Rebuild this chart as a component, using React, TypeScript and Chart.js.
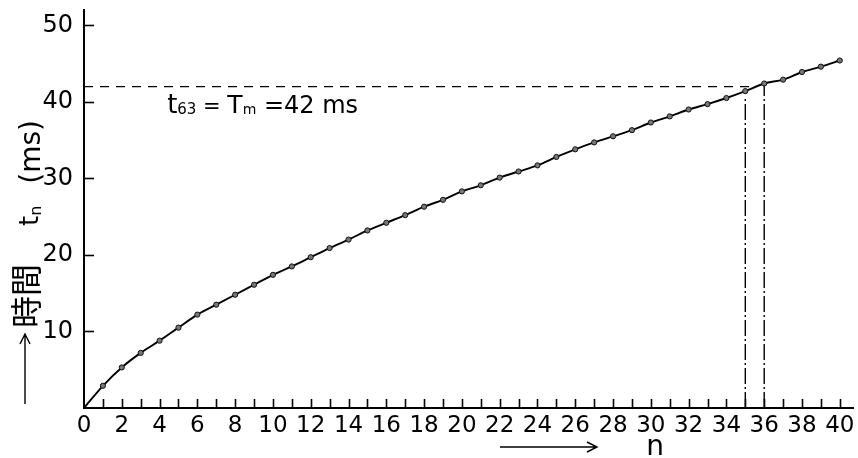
import React, { useEffect, useRef } from "react";
import { Chart, registerables } from "chart.js";

Chart.register(...registerables);

// n (pulse number) and measured time t_n in ms
const nValues = [0, 1, 2, 3, 4, 5, 6, 7, 8, 9, 10, 11, 12, 13, 14, 15, 16, 17, 18, 19, 20, 21, 22, 23, 24, 25, 26, 27, 28, 29, 30, 31, 32, 33, 34, 35, 36, 37, 38, 39, 40];
const tValues = [0, 2.9, 5.3, 7.2, 8.8, 10.5, 12.2, 13.5, 14.8, 16.1, 17.4, 18.5, 19.7, 20.9, 22.0, 23.2, 24.2, 25.2, 26.3, 27.2, 28.3, 29.1, 30.1, 30.9, 31.7, 32.8, 33.8, 34.7, 35.5, 36.3, 37.3, 38.1, 39.0, 39.7, 40.5, 41.4, 42.4, 42.9, 43.9, 44.6, 45.4];

// reference lines
const t63Value = 42;
const t63LineEndN = 35.3;
const verticalA = { n: 35, top: 40.6 };
const verticalB = { n: 36, top: 42.1 };

// ticks
const xMinorTicks = [1, 2, 3, 4, 5, 6, 7, 8, 9, 10, 11, 12, 13, 14, 15, 16, 17, 18, 19, 20, 21, 22, 23, 24, 25, 26, 27, 28, 29, 30, 31, 32, 33, 34, 35, 36, 37, 38, 39, 40];
const yMajorTicks = [10, 20, 30, 40, 50];
const xMin = 0, xMax = 40.7, yMin = 0, yMax = 52;

// annotation anchor (data coordinates)
const annotationAt = { n: 4.4, t: 38.6 };

const FONT = "'DejaVu Sans', sans-serif";
const CJK = "'Noto Sans CJK JP', sans-serif";

const decorPlugin = {
  id: "decor",
  afterDraw(chart: any) {
    const { ctx, chartArea, scales } = chart;
    const x = scales.x, y = scales.y;
    ctx.save();
    ctx.strokeStyle = "#000";
    ctx.fillStyle = "#000";
    ctx.lineWidth = 1.6;
    // inner tick marks on x axis
    for (const v of xMinorTicks) {
      const px = Math.round(x.getPixelForValue(v)) + 0.5;
      ctx.beginPath();
      ctx.moveTo(px, chartArea.bottom);
      ctx.lineTo(px, chartArea.bottom - 9);
      ctx.stroke();
    }
    // inner tick marks on y axis
    for (const v of yMajorTicks) {
      const py = Math.round(y.getPixelForValue(v)) + 0.5;
      ctx.beginPath();
      ctx.moveTo(chartArea.left, py);
      ctx.lineTo(chartArea.left + 10, py);
      ctx.stroke();
    }

    // annotation text  t63 = Tm = 42 ms
    const parts = [
      { s: "t", size: 26, dy: 0 },
      { s: "63", size: 15, dy: 1 },
      { s: " = ", size: 21, dy: 0 },
      { s: "T", size: 25, dy: 0 },
      { s: "m", size: 14, dy: 1 },
      { s: " =42 ms", size: 24, dy: 0 },
    ];
    let ax = x.getPixelForValue(annotationAt.n);
    const ay = y.getPixelForValue(annotationAt.t);
    ctx.textBaseline = "alphabetic";
    ctx.textAlign = "left";
    for (const p of parts) {
      ctx.font = `${p.size}px ${FONT}`;
      ctx.fillText(p.s, ax, ay + p.dy);
      ax += ctx.measureText(p.s).width;
    }

    // y axis title (rotated, reading upward)
    const ax0 = 25;
    const arrowBottom = chartArea.bottom - 4;
    const arrowTop = arrowBottom - 70;
    ctx.lineWidth = 1.4;
    ctx.beginPath();
    ctx.moveTo(ax0, arrowBottom);
    ctx.lineTo(ax0, arrowTop);
    ctx.moveTo(ax0 - 5, arrowTop + 10);
    ctx.lineTo(ax0, arrowTop);
    ctx.lineTo(ax0 + 5, arrowTop + 10);
    ctx.stroke();

    ctx.save();
    ctx.rotate(-Math.PI / 2);
    ctx.textAlign = "left";
    ctx.textBaseline = "middle";
    ctx.font = `32px ${CJK}`;
    let sy = arrowTop - 6;
    ctx.fillText("時間", -sy, 26);
    sy = sy - ctx.measureText("時間").width - 38;
    ctx.font = `26px ${FONT}`;
    ctx.fillText("t", -sy, 31);
    const tw = ctx.measureText("t").width;
    ctx.font = `16px ${FONT}`;
    ctx.fillText("n", -sy + tw, 37);
    sy = sy - tw - ctx.measureText("n").width - 22;
    ctx.font = `28px ${FONT}`;
    ctx.fillText("(ms)", -sy, 33);
    ctx.restore();

    // x axis title
    const ty = 447;
    ctx.beginPath();
    ctx.moveTo(500, ty);
    ctx.lineTo(597, ty);
    ctx.moveTo(587, ty - 5);
    ctx.lineTo(597, ty);
    ctx.lineTo(587, ty + 5);
    ctx.stroke();
    ctx.font = `28px ${FONT}`;
    ctx.textAlign = "center";
    ctx.textBaseline = "alphabetic";
    ctx.fillText("n", 655, 455);
    ctx.restore();
  },
};

export default function App() {
  const canvasRef = useRef<HTMLCanvasElement | null>(null);

  useEffect(() => {
    if (!canvasRef.current) return;
    const curve = nValues.map((n, i) => ({ x: n, y: tValues[i] }));
    const radii = nValues.map((n) => (n === 0 ? 0 : 2.6));
    const chart = new Chart(canvasRef.current, {
      type: "line",
      data: {
        datasets: [
          {
            label: "t_n",
            data: curve,
            borderColor: "#000",
            borderWidth: 1.9,
            cubicInterpolationMode: "monotone",
            pointRadius: radii,
            pointBackgroundColor: "#777",
            pointBorderColor: "#111",
            pointBorderWidth: 1,
            fill: false,
          },
          {
            label: "t63",
            data: [
              { x: 0, y: t63Value },
              { x: t63LineEndN, y: t63Value },
            ],
            borderColor: "#000",
            borderWidth: 1.3,
            borderDash: [9, 7],
            pointRadius: 0,
            fill: false,
          },
          {
            label: "vA",
            data: [
              { x: verticalA.n, y: 0 },
              { x: verticalA.n, y: verticalA.top },
            ],
            borderColor: "#000",
            borderWidth: 1.4,
            borderDash: [16, 3, 2, 3],
            pointRadius: 0,
            fill: false,
          },
          {
            label: "vB",
            data: [
              { x: verticalB.n, y: 0 },
              { x: verticalB.n, y: verticalB.top },
            ],
            borderColor: "#000",
            borderWidth: 1.4,
            borderDash: [16, 3, 2, 3],
            pointRadius: 0,
            fill: false,
          },
        ],
      },
      options: {
        animation: false,
        responsive: true,
        maintainAspectRatio: false,
        devicePixelRatio: 1,
        layout: { padding: { top: 10, right: 0, left: 0, bottom: 0 } },
        plugins: {
          legend: { display: false },
          tooltip: { enabled: false },
        },
        scales: {
          x: {
            type: "linear",
            min: xMin,
            max: xMax,
            grid: { display: false, drawTicks: false },
            border: { display: true, color: "#000", width: 2 },
            ticks: {
              stepSize: 1,
              autoSkip: false,
              includeBounds: false,
              maxRotation: 0,
              padding: 4,
              color: "#000",
              font: { family: FONT, size: 23 },
              callback: (v: any) => (Number(v) % 2 === 0 && Number(v) <= 40 ? String(v) : ""),
            },
            afterFit: (s: any) => {
              s.height = 50;
              s.paddingLeft = 0;
              s.paddingRight = 0;
            },
          },
          y: {
            type: "linear",
            min: yMin,
            max: yMax,
            grid: { display: false, drawTicks: false },
            border: { display: true, color: "#000", width: 2 },
            ticks: {
              stepSize: 10,
              autoSkip: false,
              includeBounds: false,
              padding: 11,
              color: "#000",
              font: { family: FONT, size: 24 },
              callback: (v: any) => (Number(v) > 0 && Number(v) % 10 === 0 ? String(v) : ""),
            },
            afterFit: (s: any) => {
              s.width = 84;
              s.paddingTop = 0;
              s.paddingBottom = 0;
            },
          },
        },
      },
      plugins: [decorPlugin],
    });
    return () => chart.destroy();
  }, []);

  return (
    <div style={{ position: "fixed", left: 0, top: 0, width: 858, height: 458, background: "#fff" }}>
      <canvas ref={canvasRef} />
    </div>
  );
}
